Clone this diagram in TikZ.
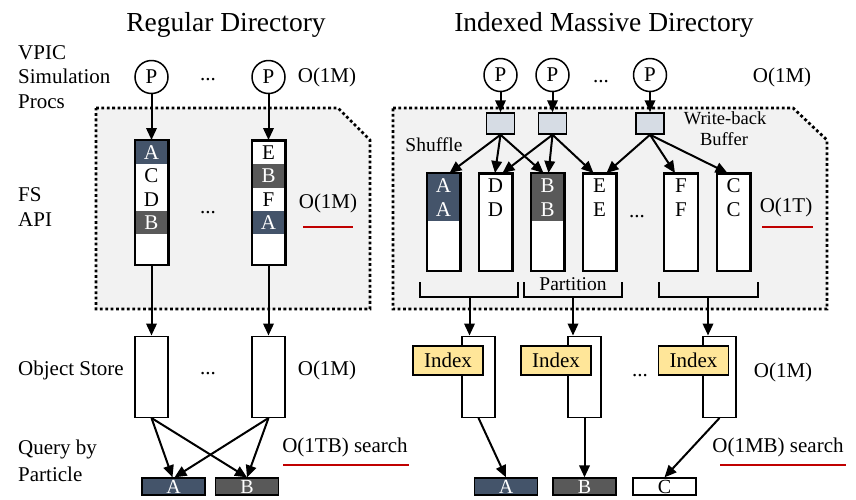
\documentclass[tikz,border=0pt]{standalone}
\usepackage{fontspec}
\setmainfont{Liberation Serif}
\usetikzlibrary{arrows.meta}
\definecolor{cblue}{HTML}{44546A}
\definecolor{cgray}{HTML}{595959}
\definecolor{cbuf}{HTML}{D6DCE4}
\definecolor{cidx}{HTML}{FFE699}
\definecolor{creg}{HTML}{F2F2F2}
\definecolor{cred}{HTML}{C00000}
\begin{document}
\begin{tikzpicture}[x=1pt,y=-1pt,
  txt/.style={font=\fontsize{21}{24.5}\selectfont, inner sep=0},
  small/.style={font=\fontsize{19.5}{17}\selectfont, inner sep=0},
  box/.style={draw, line width=1.5pt, fill=white, inner sep=0},
  region/.style={fill=creg, line width=2.8pt, dash pattern=on 2.8pt off 2.6pt},
  arr/.style={line width=2pt, -{Triangle[length=12pt,width=10.5pt]}},
  proc/.style={circle, draw, line width=1.5pt, fill=white, minimum size=33pt, inner sep=0, font=\fontsize{21}{24}\selectfont},
  cellL/.style={minimum width=31.5pt, minimum height=23.3pt, inner sep=0, anchor=north, font=\fontsize{21}{24}\selectfont},
  cellR/.style={minimum width=31.5pt, minimum height=23.5pt, inner sep=0, anchor=north, font=\fontsize{21}{24}\selectfont},
  dk/.style={fill=#1, text=white},
  colL/.style={box, minimum width=33pt, minimum height=124pt, anchor=north},
  colR/.style={box, minimum width=33pt, minimum height=97pt, anchor=north},
  obj/.style={box, minimum width=33pt, minimum height=81pt, anchor=north},
  buf/.style={draw, line width=1.5pt, fill=cbuf, minimum width=28pt, minimum height=21pt, inner sep=0},
  idx/.style={draw, line width=1.3pt, fill=cidx, minimum width=70pt, minimum height=29pt, inner sep=0, font=\fontsize{21}{24}\selectfont},
  res/.style={draw, line width=1.3pt, minimum width=63pt, minimum height=17pt, inner sep=0, font=\fontsize{20}{20}\selectfont},
  uline/.style={draw=cred, line width=2.5pt},
  brk/.style={line width=1.5pt}
]
\useasboundingbox (0,0) rectangle (856,499);

% titles
\node[font=\fontsize{27.5}{30}\selectfont, inner sep=0] (t1) at (226,25) {Regular Directory};
\node[font=\fontsize{27.5}{30}\selectfont, inner sep=0] (t2) at (604,25) {Indexed Massive Directory};

% row labels
\node[txt, anchor=west, align=left] (lab1) at (18,77) {VPIC\\Simulation\\Procs};
\node[txt, anchor=west, align=left] (lab2) at (18,207) {FS\\API};
\node[txt, anchor=west] (lab3) at (18,370) {Object Store};
\node[txt, anchor=west, align=left, font=\fontsize{21}{27}\selectfont] (lab4) at (18,461) {Query by\\Particle};

% regions
\path[region, draw] (96,108) -- (338,108) -- (370,140) -- (370,309) -- (96,309) -- cycle;
\path[region, draw] (393,108) -- (793,108) -- (827,140) -- (827,309) -- (393,309) -- cycle;

% ---------- Left: Regular directory ----------
\node[proc] (lp1) at (151.5,77) {P};
\node[proc] (lp2) at (268.5,77) {P};
\node[txt] (ld1) at (208,80) {...};
\node[txt] (lo1) at (327,77) {O(1M)};

\node[colL] (L1) at (151.5,140) {};
\node[colL] (L2) at (268.5,140) {};
\node[cellL, dk=cblue] (l1a) at (151.5,140.75) {A};
\node[cellL] (l1b) at (151.5,164.05) {C};
\node[cellL] (l1c) at (151.5,187.35) {D};
\node[cellL, dk=cgray] (l1d) at (151.5,210.65) {B};
\node[cellL] (l2a) at (268.5,140.75) {E};
\node[cellL, dk=cgray] (l2b) at (268.5,164.05) {B};
\node[cellL] (l2c) at (268.5,187.35) {F};
\node[cellL, dk=cblue] (l2d) at (268.5,210.65) {A};
\draw[line width=1.5pt] (L1.north west) rectangle (L1.south east);
\draw[line width=1.5pt] (L2.north west) rectangle (L2.south east);
\node[txt] (ld2) at (208,213) {...};
\node[txt] (lo2) at (328,203) {O(1M)};
\draw[uline] (303,227) -- (353,227);

\draw[arr] (lp1) -- (L1.north);
\draw[arr] (lp2) -- (L2.north);

\node[obj] (os1) at (151.5,335.5) {};
\node[obj] (os2) at (268.5,335.5) {};
\draw[arr] (L1.south) -- (os1.north);
\draw[arr] (L2.south) -- (os2.north);
\node[txt] (ld3) at (208,374) {...};
\node[txt] (lo3) at (327,370) {O(1M)};

\node[res, fill=cblue, text=white] (qa) at (173.5,486.5) {A};
\node[res, fill=cgray, text=white] (qb) at (247,486.5) {B};
\draw[arr] (os1.south) -- ([xshift=-1pt]qa.north);
\draw[arr] (os1.south) -- (qb.north);
\draw[arr] (os2.south) -- ([xshift=1pt]qa.north);
\draw[arr] (os2.south) -- (qb.north);
\node[txt] (lo4) at (345,447) {O(1TB) search};
\draw[uline] (283,465) -- (409,465);

% ---------- Right: Indexed massive directory ----------
\node[proc] (rp1) at (500.5,75) {P};
\node[proc] (rp2) at (552.5,75) {P};
\node[proc] (rp3) at (650,75) {P};
\node[txt] (rd1) at (601,82) {...};
\node[txt] (ro1) at (782,77) {O(1M)};

\node[buf] (b1) at (500.5,123.5) {};
\node[buf] (b2) at (552.5,123.5) {};
\node[buf] (b3) at (650,123.5) {};
\draw[arr] (rp1) -- (b1.north);
\draw[arr] (rp2) -- (b2.north);
\draw[arr] (rp3) -- (b3.north);

\node[font=\fontsize{18.5}{18}\selectfont, inner sep=0, anchor=base] (wb1) at (725,124.5) {Write-back};
\node[font=\fontsize{18.5}{18}\selectfont, inner sep=0, anchor=base] (wb2) at (724,145) {Buffer};
\node[small] (sh) at (434,145) {Shuffle};

\node[colR] (r1) at (443.5,173) {};
\node[colR] (r2) at (495.5,173) {};
\node[colR] (r3) at (547.5,173) {};
\node[colR] (r4) at (599.5,173) {};
\node[colR] (r5) at (681,173) {};
\node[colR] (r6) at (733.5,173) {};
\node[cellR, dk=cblue] (r1a) at (443.5,173.75) {A};
\node[cellR, dk=cblue] (r1b) at (443.5,197.25) {A};
\node[cellR] (r2a) at (495.5,173.75) {D};
\node[cellR] (r2b) at (495.5,197.25) {D};
\node[cellR, dk=cgray] (r3a) at (547.5,173.75) {B};
\node[cellR, dk=cgray] (r3b) at (547.5,197.25) {B};
\node[cellR] (r4a) at (599.5,173.75) {E};
\node[cellR] (r4b) at (599.5,197.25) {E};
\node[cellR] (r5a) at (681,173.75) {F};
\node[cellR] (r5b) at (681,197.25) {F};
\node[cellR] (r6a) at (733.5,173.75) {C};
\node[cellR] (r6b) at (733.5,197.25) {C};
\foreach \c in {r1,r2,r3,r4,r5,r6}
  \draw[line width=1.5pt] (\c.north west) rectangle (\c.south east);

\draw[arr] (b1.south) -- ([xshift=6pt]r1.north);
\draw[arr] (b1.south) -- ([xshift=-0.5pt]r2.north);
\draw[arr] (b1.south) -- ([xshift=-4pt]r3.north);
\draw[arr] (b2.south) -- ([xshift=7pt]r2.north);
\draw[arr] (b2.south) -- ([xshift=1pt]r3.north);
\draw[arr] (b2.south) -- ([xshift=-6pt]r4.north);
\draw[arr] (b3.south) -- ([xshift=7pt]r4.north);
\draw[arr] (b3.south) -- ([xshift=-6pt]r5.north);
\draw[arr] (b3.south) -- ([xshift=-6pt]r6.north);

\node[txt] (rd2) at (637,217) {...};
\node[txt] (ro2) at (786,207) {O(1T)};
\draw[uline] (762,227) -- (813,227);

% partition brackets
\draw[brk] (420,282) -- (420,297) -- (518,297) -- (518,282);
\draw[brk] (524,282) -- (524,297) -- (622,297) -- (622,282);
\draw[brk] (659,282) -- (659,297) -- (758,297) -- (758,282);
\node[small] (pt) at (573,284) {Partition};
\coordinate (s1) at (469.5,297);
\coordinate (s2) at (573,297);
\coordinate (s3) at (708,297);

\node[obj] (o1) at (478.5,335.5) {};
\node[obj] (o2) at (584.5,335.5) {};
\node[obj] (o3) at (719.5,335.5) {};
\draw[arr] (s1) -- (o1.north -| s1);
\draw[arr] (s2) -- (o2.north -| s2);
\draw[arr] (s3) -- (o3.north -| s3);
\node[idx] (i1) at (448,360.5) {Index};
\node[idx] (i2) at (556,360.5) {Index};
\node[idx] (i3) at (693.5,360.5) {Index};
\node[txt] (rd3) at (640,376) {...};
\node[txt] (ro3) at (783,372) {O(1M)};

\node[res, fill=cblue, text=white] (ra) at (506,486.5) {A};
\node[res, fill=cgray, text=white] (rb) at (584.5,486.5) {B};
\node[res, fill=white] (rc) at (664.5,486.5) {C};
\draw[arr] (o1.south) -- (ra.north);
\draw[arr] (o2.south) -- (rb.north);
\draw[arr] (o3.south) -- (rc.north);
\node[txt] (ro4) at (778,447) {O(1MB) search};
\draw[uline] (720,465) -- (846,465);
\end{tikzpicture}
\end{document}
